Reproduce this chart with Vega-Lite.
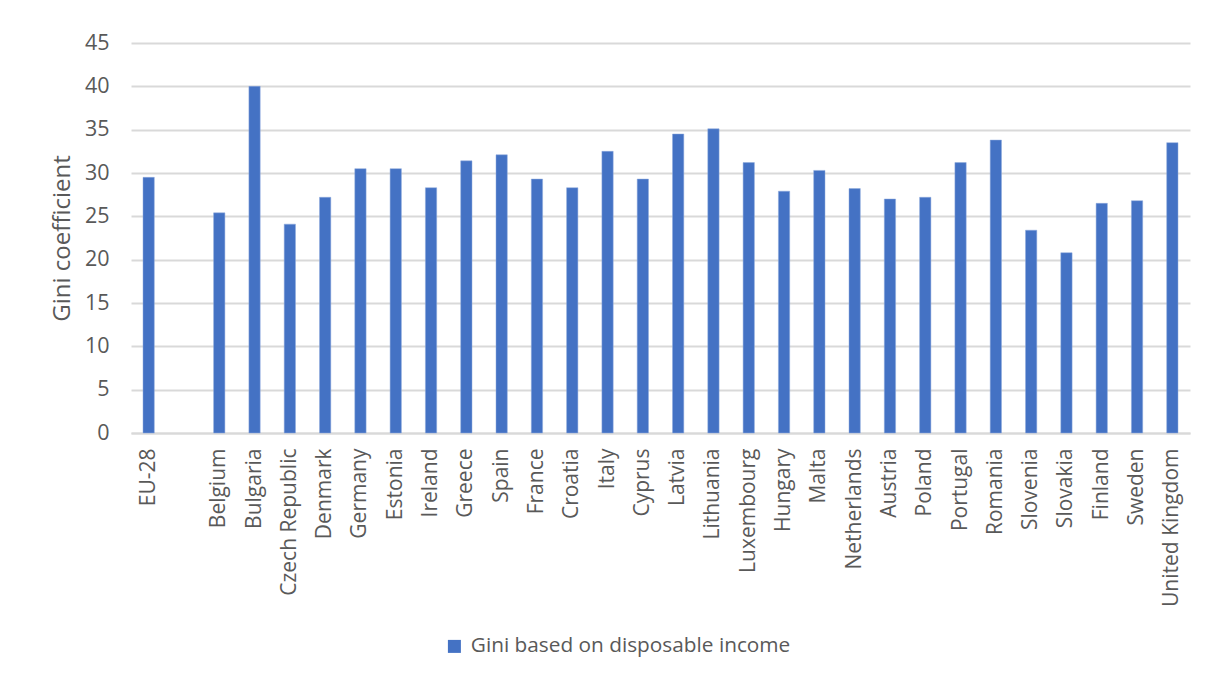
{
  "$schema": "https://vega.github.io/schema/vega-lite/v6.json",
  "width": 1059,
  "height": 390,
  "autosize": {"type": "none"},
  "padding": {"left": 131, "top": 43, "right": 18, "bottom": 243},
  "background": "white",
  "config": {
    "font": "Open Sans",
    "view": {"stroke": null}
  },
  "data": {
    "values": [
      {"country": "EU-28", "gini": 29.5},
      {"country": " ", "gini": null},
      {"country": "Belgium", "gini": 25.4},
      {"country": "Bulgaria", "gini": 40.0},
      {"country": "Czech Republic", "gini": 24.1},
      {"country": "Denmark", "gini": 27.2},
      {"country": "Germany", "gini": 30.5},
      {"country": "Estonia", "gini": 30.5},
      {"country": "Ireland", "gini": 28.3},
      {"country": "Greece", "gini": 31.4},
      {"country": "Spain", "gini": 32.1},
      {"country": "France", "gini": 29.3},
      {"country": "Croatia", "gini": 28.3},
      {"country": "Italy", "gini": 32.5},
      {"country": "Cyprus", "gini": 29.3},
      {"country": "Latvia", "gini": 34.5},
      {"country": "Lithuania", "gini": 35.1},
      {"country": "Luxembourg", "gini": 31.2},
      {"country": "Hungary", "gini": 27.9},
      {"country": "Malta", "gini": 30.3},
      {"country": "Netherlands", "gini": 28.2},
      {"country": "Austria", "gini": 27.0},
      {"country": "Poland", "gini": 27.2},
      {"country": "Portugal", "gini": 31.2},
      {"country": "Romania", "gini": 33.8},
      {"country": "Slovenia", "gini": 23.4},
      {"country": "Slovakia", "gini": 20.8},
      {"country": "Finland", "gini": 26.5},
      {"country": "Sweden", "gini": 26.8},
      {"country": "United Kingdom", "gini": 33.5}
    ]
  },
  "mark": {"type": "bar", "stroke": "#8faadc", "strokeWidth": 0.5},
  "encoding": {
    "x": {
      "field": "country",
      "type": "nominal",
      "sort": null,
      "scale": {
        "domain": ["EU-28", " ", "Belgium", "Bulgaria", "Czech Republic", "Denmark", "Germany", "Estonia", "Ireland", "Greece", "Spain", "France", "Croatia", "Italy", "Cyprus", "Latvia", "Lithuania", "Luxembourg", "Hungary", "Malta", "Netherlands", "Austria", "Poland", "Portugal", "Romania", "Slovenia", "Slovakia", "Finland", "Sweden", "United Kingdom"],
        "paddingInner": 0.68,
        "paddingOuter": 0.34
      },
      "axis": {
        "title": null,
        "labelAngle": -90,
        "labelFontSize": 21,
        "labelColor": "#595959",
        "labelPadding": 15,
        "labelLimit": 300,
        "ticks": false,
        "domainColor": "#d9d9d9",
        "domainWidth": 2,
        "grid": false
      }
    },
    "y": {
      "field": "gini",
      "type": "quantitative",
      "scale": {"domain": [0, 45], "nice": false},
      "axis": {
        "title": "Gini coefficient",
        "titleFontSize": 24,
        "titleFontWeight": "normal",
        "titleColor": "#595959",
        "titlePadding": 10,
        "values": [0, 5, 10, 15, 20, 25, 30, 35, 40, 45],
        "labelFontSize": 21.5,
        "labelColor": "#595959",
        "labelPadding": 22,
        "ticks": false,
        "domain": false,
        "grid": true,
        "gridColor": "#d9d9d9",
        "gridWidth": 2
      }
    },
    "color": {
      "datum": "Gini based on disposable income",
      "type": "nominal",
      "scale": {"range": ["#4472C4"]},
      "legend": {
        "title": null,
        "orient": "none",
        "legendX": 313,
        "legendY": 593,
        "symbolType": "square",
        "symbolSize": 169,
        "symbolStrokeWidth": 0,
        "labelFontSize": 20.8,
        "labelLimit": 500,
        "labelColor": "#595959",
        "labelOffset": 6
      }
    }
  }
}
